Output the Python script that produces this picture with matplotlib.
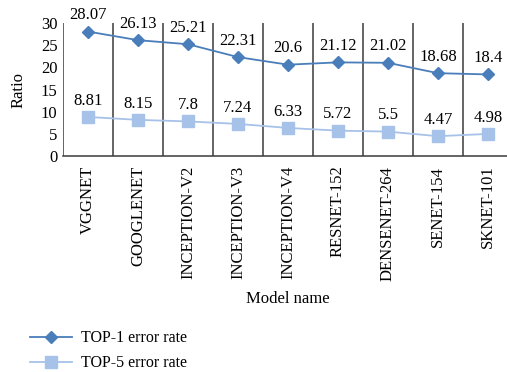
import matplotlib
matplotlib.use("Agg")
import matplotlib.pyplot as plt

models = ["VGGNET", "GOOGLENET", "INCEPTION-V2", "INCEPTION-V3", "INCEPTION-V4",
          "RESNET-152", "DENSENET-264", "SENET-154", "SKNET-101"]
top1 = [28.07, 26.13, 25.21, 22.31, 20.6, 21.12, 21.02, 18.68, 18.4]
top5 = [8.81, 8.15, 7.8, 7.24, 6.33, 5.72, 5.5, 4.47, 4.98]

plt.rcParams["font.family"] = ["Liberation Serif", "DejaVu Serif"]
plt.rcParams["font.size"] = 11

W, H = 507, 372
fig = plt.figure(figsize=(W / 100, H / 100), dpi=100)
ax = fig.add_axes([63 / W, 1 - 156 / H, 450 / W, 133 / H])

x = list(range(len(models)))
l1, = ax.plot(x, top1, color="#4a7ebb", marker="D", markersize=6, lw=1.3,
              label="TOP-1 error rate")
l2, = ax.plot(x, top5, color="#a7c2e8", marker="s", markersize=8, lw=1.3,
              label="TOP-5 error rate")

for series in (top1, top5):
    for xi, v in zip(x, series):
        ax.annotate(f"{v:g}", (xi, v), xytext=(0, 6), textcoords="offset points",
                    ha="center", va="bottom", fontsize=12)

ax.set_xlim(-0.5, len(models) - 0.5)
ax.set_ylim(0, 30)
ax.set_yticks(range(0, 31, 5))
ax.set_xticks(x)
ax.set_xticklabels(models, rotation=90, fontsize=12)
ax.tick_params(axis="x", length=0, pad=7)
ax.tick_params(axis="y", length=0, pad=4, labelsize=12)

# category separators
for b in range(len(models) + 1):
    ax.axvline(b - 0.5, color="#3a3a3a", lw=1.1, zorder=0)

for s in ["top", "right", "left"]:
    ax.spines[s].set_visible(False)
ax.spines["bottom"].set_color("#3a3a3a")
ax.spines["bottom"].set_linewidth(1.1)

ax.set_ylabel("Ratio", fontsize=12)
ax.yaxis.set_label_coords(-0.082, 0.5)
ax.set_xlabel("Model name", fontsize=12)
ax.xaxis.set_label_coords(0.5, -1.015)

fig.legend(handles=[l1, l2], loc="upper left", bbox_to_anchor=(16 / W, 1 - 316 / H),
           frameon=False, fontsize=11.5, handlelength=2.6, labelspacing=0.55,
           handletextpad=0.6)

fig.savefig("out.png", dpi=100)
